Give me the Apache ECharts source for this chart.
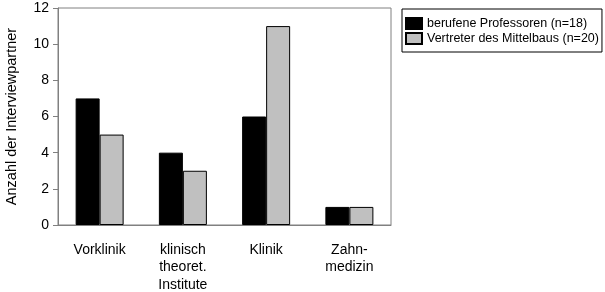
<!DOCTYPE html>
<html><head><meta charset="utf-8">
<script src="https://cdn.jsdelivr.net/npm/echarts@6/dist/echarts.min.js"></script>
<style>html,body{margin:0;padding:0;background:#fff}#c{width:605px;height:292px}</style>
</head><body><div id="c"></div>
<script>
const categories = ['Vorklinik', 'klinisch\ntheoret.\nInstitute', 'Klinik', 'Zahn-\nmedizin'];
const professoren = [7, 4, 6, 1];
const mittelbau = [5, 3, 11, 1];
const seriesNames = ['berufene Professoren (n=18)', 'Vertreter des Mittelbaus (n=20)'];
const yTicks = {min: 0, max: 12, interval: 2};

const font = 'Liberation Sans, Arial, sans-serif';
const chart = echarts.init(document.getElementById('c'));
chart.setOption({
  animation: false,
  backgroundColor: '#fff',
  grid: {left: 58, top: 8, width: 333, height: 217, show: true, borderColor: '#808080', borderWidth: 1,
         containLabel: false, outerBoundsMode: 'none'},
  legend: {
    orient: 'vertical', left: 402, top: 9,
    padding: [8, 3, 7, 3], itemGap: 2, itemWidth: 16, itemHeight: 11,
    borderColor: '#000', borderWidth: 1, backgroundColor: '#fff',
    textStyle: {fontFamily: font, fontSize: 12.5, color: '#000', lineHeight: 13},
    icon: 'rect',
    data: seriesNames
  },
  xAxis: {
    type: 'category', data: categories,
    axisLine: {lineStyle: {color: '#808080'}},
    axisTick: {show: false},
    axisLabel: {fontFamily: font, fontSize: 14, color: '#000', margin: 16, lineHeight: 17.5, interval: 0}
  },
  yAxis: {
    type: 'value', min: yTicks.min, max: yTicks.max, interval: yTicks.interval,
    name: 'Anzahl der Interviewpartner', nameLocation: 'middle', nameGap: 39,
    nameTextStyle: {fontFamily: font, fontSize: 14.5, color: '#000'},
    axisLine: {show: true, lineStyle: {color: '#808080'}},
    axisTick: {show: true, length: 5, lineStyle: {color: '#808080'}},
    splitLine: {show: false},
    axisLabel: {fontFamily: font, fontSize: 14, color: '#000', margin: 9}
  },
  series: [
    {name: seriesNames[0], type: 'bar', data: professoren, barWidth: 24, barGap: '0%',
     itemStyle: {color: '#000', borderColor: '#000', borderWidth: 1}},
    {name: seriesNames[1], type: 'bar', data: mittelbau, barWidth: 24, barGap: '0%',
     itemStyle: {color: '#c0c0c0', borderColor: '#000', borderWidth: 1}}
  ]
});
</script></body></html>
